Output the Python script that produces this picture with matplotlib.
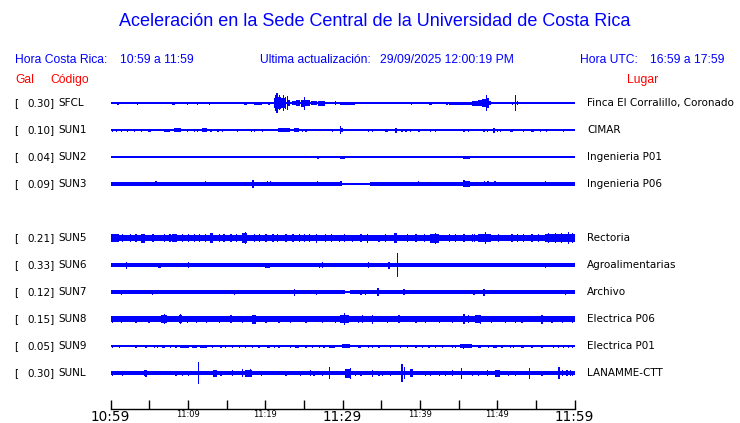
import matplotlib
matplotlib.use("Agg")
import matplotlib.pyplot as plt

W, H = 740, 423

# ---------------- data ----------------
codes = ["SFCL", "SUN1", "SUN2", "SUN3", "SUN5", "SUN6", "SUN7", "SUN8", "SUN9", "SUNL"]
gal = ["0.30", "0.10", "0.04", "0.09", "0.21", "0.33", "0.12", "0.15", "0.05", "0.30"]
places = ["Finca El Corralillo, Coronado", "CIMAR", "Ingenieria P01", "Ingenieria P06",
          "Rectoria", "Agroalimentarias", "Archivo", "Electrica P06", "Electrica P01",
          "LANAMME-CTT"]
slots = [0, 1, 2, 3, 5, 6, 7, 8, 9, 10]

tick_minutes = [0, 5, 10, 15, 20, 25, 30, 35, 40, 45, 50, 55, 60]
tick_labels = ["10:59", "", "11:09", "", "11:19", "", "11:29", "", "11:39", "", "11:49", "", "11:59"]
big_labels = ["10:59", "11:29", "11:59"]

# background band of each trace: (start min, end min, half amplitude)
base_sfcl = [(0, 60, 0.6)]
base_sun1 = [(0, 60, 0.7)]
base_sun2 = [(0, 60, 0.6)]
base_sun3 = [(0, 29.9, 1.9), (29.9, 33.5, 0.6), (33.5, 60, 1.9)]
base_sun5 = [(0, 1.1, 3.7), (1.1, 56.1, 3.2), (56.1, 60, 3.8)]
base_sun6 = [(0, 60, 1.7)]
base_sun7 = [(0, 30.3, 1.8), (30.3, 31.0, 0.6), (31.0, 60, 1.8)]
base_sun8 = [(0, 60, 2.8)]
base_sun9 = [(0, 60, 0.7)]
base_sunl = [(0, 60, 2.2)]

# bursts / spikes: (start min, duration min, half amplitude)
ev_sfcl = [(0.9, .15, 1.5), (3.4, .15, 1.5), (6.0, .15, 1), (6.7, .15, 1), (7.3, .15, 1),
           (8.0, .4, 1.5), (9.9, .15, 1.5), (10.5, .15, 1), (11.2, .15, 1.5), (12.7, .15, 1.5),
           (16.3, .15, 1), (17.2, .4, 1.5), (18.5, 1.1, 1.5), (20.0, .15, 1), (20.4, .15, 1.5),
           (21.1, .35, 5), (21.25, .15, 8), (21.45, .15, 10), (21.6, .5, 6), (21.8, .15, 7.5),
           (22.1, .6, 5), (22.3, .15, 8), (22.5, .15, 6), (22.75, .15, 7), (22.9, .3, 3),
           (23.4, .6, 2), (24.0, .5, 3), (24.6, .5, 3.5), (25.0, .15, 6.5), (25.2, .6, 3),
           (25.9, .8, 2), (26.8, .9, 2.5), (27.8, 1.0, 1), (29.0, .15, 2), (29.7, 1.9, 1.5),
           (32.0, .15, 1), (32.7, .15, 1), (37.4, .15, 1), (37.8, .15, 1), (38.8, .15, 1.5),
           (41.2, .4, 1.5), (43.4, .2, 1.5), (43.7, 3.0, 1.5), (46.7, .8, 2.5), (47.5, .5, 3),
           (48.0, .5, 4), (48.5, .15, 8), (48.65, .3, 5), (48.95, .25, 2), (50.5, .15, 1),
           (51.9, .15, 1.5), (52.3, .15, 8), (52.5, .2, 2), (53.6, .15, 1), (54.8, .15, 1)]
ev_sun1 = [(0.2, .15, 1.5), (0.65, .15, 1.5), (1.3, .15, 1.5), (2.15, .15, 1.5), (3.0, .15, 1.5),
           (3.9, .15, 1.5), (4.9, .3, 1.5), (6.9, .85, 1.5), (8.2, .9, 2), (9.9, .15, 1.5),
           (10.75, .15, 1.5), (11.2, .15, 1.5), (11.8, .65, 2), (12.9, .15, 1.5), (13.8, .15, 1.5),
           (14.4, .15, 1.5), (16.3, .15, 1.5), (18.1, .15, 1.5), (18.5, .15, 1.5), (19.6, .15, 1.5),
           (21.7, 1.5, 2), (23.7, .65, 2), (24.7, .15, 1.5), (25.2, .15, 1.5), (28.6, .15, 1.5),
           (29.6, .15, 4), (29.7, .3, 2), (33.3, .15, 1.5), (33.8, .15, 1.5), (35.5, .4, 1.5),
           (36.8, .2, 2.5), (37.6, .15, 1.5), (38.1, .15, 1.5), (38.7, .2, 1.5), (39.8, .15, 1.5),
           (41.3, .15, 1.5), (41.9, .15, 1.5), (45.6, .15, 1.5), (46.2, .15, 1.5), (48.2, .15, 1.5),
           (48.6, .15, 1.5), (49.5, .15, 2.5), (49.9, .15, 1.5), (50.3, .15, 1.5), (51.6, .4, 1.5),
           (53.3, .15, 1.5), (54.4, .4, 1.5), (55.5, .15, 1.5), (56.3, .15, 1.5), (58.5, .15, 1.5)]
ev_sun2 = [(5.8, .15, 1.2), (12.3, .15, 1.2), (18.5, .15, 1.2), (19.9, .15, 1.0), (26.7, .25, 1.5),
           (27.4, .15, 1.2), (29.7, .65, 1.5), (30.6, .15, 1.2), (32.3, .15, 1.2), (33.2, .15, 1.2),
           (38.3, .15, 1.0), (44.3, .15, 1.2), (45.6, .85, 1.5), (48.3, .15, 1.2), (48.8, .15, 1.2),
           (56.3, .15, 1.2)]
ev_sun3 = [(5.8, .15, 2.5), (12.2, .15, 2.5), (13.5, .15, 2), (18.3, .2, 4), (20.2, .15, 2.5),
           (20.6, .15, 2.5), (26.7, .15, 2.5), (29.7, .15, 2.5), (39.7, .15, 2.5), (45.6, .15, 3.5),
           (45.8, .65, 3), (48.3, .15, 2.5), (48.7, .15, 2.5), (49.6, .15, 2.5), (50.1, .15, 2),
           (56.1, .15, 2.5), (56.9, .15, 2)]
ev_sun5 = [(1.5, .15, 4), (2.5, .15, 3.8), (3.2, .15, 4.2), (3.9, .6, 4.5), (5.4, .15, 4),
           (6.9, .15, 4), (7.6, .15, 3.8), (8.0, .6, 4), (9.2, .15, 4), (10.0, .15, 4.2),
           (10.75, .15, 4), (11.4, .15, 4), (12.2, .15, 3.8), (12.9, .4, 5), (14.0, .15, 4),
           (14.6, .15, 4), (15.5, .15, 3.8), (16.2, .15, 4.2), (17.0, .6, 5), (17.4, .15, 6),
           (18.5, .15, 4), (19.2, .15, 3.8), (20.0, .15, 4), (20.9, .15, 4), (21.5, .15, 4.2),
           (22.6, .15, 4), (23.5, .15, 3.8), (24.3, .15, 4), (25.0, .15, 4.2), (25.6, .15, 4),
           (26.5, .15, 4.5), (27.7, .15, 4), (28.5, .15, 3.8), (29.5, .15, 3.5), (30.2, .15, 4),
           (31.2, .15, 3.5), (32.3, .15, 4), (33.1, .15, 4.5), (34.6, .15, 3.5), (35.5, .15, 4),
           (36.6, .4, 5), (38.3, .15, 4), (39.4, .15, 4), (40.5, .15, 4), (41.3, 1.1, 4.5),
           (41.9, .15, 5.5), (43.7, .15, 4), (44.5, .15, 4), (45.6, .15, 4), (46.7, .15, 4),
           (47.0, .15, 4), (47.5, 1.7, 4), (48.4, .15, 6), (50.1, .15, 4), (51.8, .15, 4),
           (52.5, .15, 4), (53.3, .15, 3.8), (54.4, .15, 4), (55.2, .15, 4), (56.5, .15, 5),
           (57.4, .15, 4.8), (58.2, .15, 5), (59.1, .15, 6), (59.6, .15, 5)]
ev_sun6 = [(2.0, .15, 3.5), (3.0, .15, 2), (6.2, .3, 2.5), (7.1, .15, 2), (10.0, .2, 3),
           (10.5, .15, 2), (12.0, .15, 2), (12.5, .6, 2), (17.8, .4, 2), (18.7, .9, 2),
           (20.0, .6, 2.5), (21.1, .15, 2), (21.7, .15, 2), (22.6, .15, 2), (25.6, .15, 2),
           (26.2, .15, 2), (26.9, .15, 2.5), (27.3, .15, 3), (28.6, .15, 2), (33.3, .15, 3),
           (34.2, .15, 2), (35.9, .15, 3.5), (37.0, .15, 11.7), (37.6, .15, 2), (45.2, .15, 2),
           (47.1, .15, 2), (49.9, .15, 2), (53.6, .15, 2), (55.5, .15, 2), (56.1, .15, 2.5),
           (57.0, .15, 2)]
ev_sun7 = [(1.3, .15, 2.5), (4.5, .15, 2), (5.3, .15, 2.5), (7.1, .15, 2), (8.2, .15, 2),
           (10.5, .15, 2), (14.4, .15, 2), (15.9, .15, 2.5), (16.6, .15, 2), (20.2, .15, 2),
           (23.7, .15, 3.5), (26.5, .15, 2.5), (31.2, .15, 2), (32.3, .15, 2.5), (32.9, .15, 2.5),
           (33.3, .15, 2), (34.5, .15, 4), (36.8, .15, 2), (37.8, .3, 3), (38.9, .15, 2),
           (39.8, .15, 2), (41.7, .15, 2), (43.9, .15, 2), (45.8, .15, 2), (46.9, .15, 2.5),
           (48.2, .15, 3.5), (49.9, .15, 2), (51.4, .15, 2), (54.6, .15, 2), (58.7, .15, 2.5),
           (59.4, .15, 2)]
ev_sun8 = [(0.2, .15, 3.5), (1.3, .15, 3.5), (3.2, .15, 3.5), (4.9, .15, 3.5), (6.5, .85, 4),
           (6.9, .15, 5), (8.8, .45, 4), (9.0, .15, 5), (9.9, .15, 3.5), (11.0, .15, 3.5),
           (12.3, .15, 3.5), (14.0, .15, 3.5), (15.5, .15, 4), (17.0, .15, 3.5), (18.3, .45, 4.5),
           (20.0, .15, 3.5), (21.7, .15, 3.5), (23.2, .15, 3.5), (25.2, .15, 3.5), (27.3, .15, 3.5),
           (29.0, .15, 3.5), (29.7, 1.1, 4), (30.2, .15, 5.7), (32.0, .15, 3.5), (32.5, .15, 4),
           (33.8, .15, 4.5), (35.7, .15, 3.5), (37.2, .15, 4), (39.4, .15, 3.5), (40.6, .15, 3.5),
           (42.4, .15, 3.5), (44.1, .15, 3.5), (45.6, .15, 5.3), (46.2, .15, 4), (47.1, .85, 4),
           (47.7, .15, 4.5), (49.2, .15, 3.5), (51.0, .15, 3.5), (52.3, .15, 3.5), (53.1, .15, 3.5),
           (55.7, .15, 4.5), (57.0, .15, 3.5), (58.3, .15, 3.5), (59.6, .15, 3.5)]
ev_sun9 = [(0.2, .15, 1.5), (1.1, .15, 1.5), (3.2, .15, 1.5), (4.5, .15, 1.5), (5.6, .15, 1.5),
           (6.0, .15, 1.5), (6.7, .4, 1.5), (7.7, .15, 1.5), (8.4, .15, 1.5), (9.0, 1.1, 1.5),
           (10.5, .65, 1.5), (11.6, .85, 1.5), (13.1, .15, 1.5), (14.2, .15, 1.5), (14.8, .15, 1.5),
           (15.7, .15, 1.5), (16.6, .15, 1.5), (17.4, .15, 1.5), (18.3, .15, 1.5), (19.1, .15, 1.5),
           (20.2, .4, 1.5), (21.1, .15, 1.5), (21.7, .15, 1.5), (23.2, .15, 1.5), (23.9, .4, 1.5),
           (25.2, .15, 1.5), (26.0, .15, 1.5), (26.9, .15, 1.5), (27.5, .15, 1.5), (28.2, .85, 1.5),
           (29.9, 1.1, 1.8), (32.0, .4, 1.5), (33.3, .15, 1.5), (33.8, .15, 1.5), (34.6, .15, 1.5),
           (36.1, .15, 1.5), (37.4, .15, 1.5), (38.3, .2, 1.5), (39.4, .15, 1.5), (40.2, .15, 1.5),
           (41.1, .15, 1.5), (41.9, .15, 1.5), (42.8, .15, 1.5), (44.1, .15, 1.5), (44.5, .15, 1.5),
           (45.2, 1.5, 2), (45.5, .15, 2.5), (47.5, .4, 1.5), (48.8, .15, 1.5), (49.5, .4, 1.5),
           (50.5, .15, 1.5), (51.6, .15, 1.5), (52.0, .15, 1.5), (53.1, .4, 1.5), (54.4, .15, 1.5),
           (55.7, .15, 1.5), (57.2, .15, 1.5), (57.8, .15, 1.5), (58.5, .15, 1.5), (59.1, .15, 1.5),
           (59.6, .15, 1.5)]
ev_sunl = [(0.2, .15, 2.5), (1.5, .15, 2.5), (4.3, .4, 3), (4.5, .15, 3.5), (8.4, .15, 2.5),
           (9.2, .15, 2.5), (10.0, .15, 2.5), (11.3, .15, 10.8), (13.3, .45, 3.5), (14.2, .15, 2.5),
           (15.7, .15, 3), (17.0, .15, 4), (17.4, .9, 3.5), (18.0, .15, 4), (19.4, .15, 2.5),
           (22.6, .15, 2.5), (24.5, .15, 2.5), (25.8, .15, 3), (26.2, .15, 2.5), (27.3, .15, 2.5),
           (28.2, .15, 6.3), (30.3, .65, 4.5), (30.9, .15, 5.5), (31.6, .15, 2.5), (32.3, .15, 2.5),
           (33.8, .15, 3.5), (34.6, .15, 2.5), (35.1, .15, 2.5), (36.1, .15, 2.5), (37.6, .15, 8.8),
           (37.9, .15, 6), (38.7, .4, 4), (40.6, .15, 2.5), (41.3, .15, 2.5), (42.4, .15, 2.5),
           (43.2, .15, 2.5), (44.1, .15, 3), (45.3, .15, 5.5), (46.7, .15, 2.5), (47.5, .15, 2.5),
           (48.6, .15, 3), (49.7, .65, 3.5), (51.4, .15, 2.5), (52.3, .15, 2.5), (54.1, .15, 5.5),
           (55.7, .15, 2.5), (57.9, .15, 6), (58.3, .15, 3), (58.9, .15, 3), (59.4, .15, 3),
           (59.6, .15, 2.5)]

bases = [base_sfcl, base_sun1, base_sun2, base_sun3, base_sun5, base_sun6, base_sun7,
         base_sun8, base_sun9, base_sunl]
events = [ev_sfcl, ev_sun1, ev_sun2, ev_sun3, ev_sun5, ev_sun6, ev_sun7, ev_sun8, ev_sun9,
          ev_sunl]

# ---------------- layout ----------------
BLUE = "#0000FF"
RED = "#FF0000"
HEAD = "Liberation Sans"
LAB = "DejaVu Sans"

fig = plt.figure(figsize=(W / 100, H / 100), dpi=100)
fig.patch.set_facecolor("white")


def fx(px):
    return px / W


def fy(py):
    return 1 - py / H


x0, x1 = 110.5, 574.7
ytop, ybot = 88, 409
ax = fig.add_axes([fx(x0), fy(ybot), fx(x1) - fx(x0), fy(ytop) - fy(ybot)])
ax.set_xlim(0, 60)
ax.set_ylim(ybot, ytop)
for s in ("top", "left", "right"):
    ax.spines[s].set_visible(False)
ax.spines["bottom"].set_linewidth(1.0)
ax.set_yticks([])
ax.set_xticks(tick_minutes)
ax.set_xticklabels(tick_labels)
ax.tick_params(axis="x", direction="in", length=6.5, width=1.0, pad=0.5, colors="black")
for lbl in ax.get_xticklabels():
    if lbl.get_text() in big_labels:
        lbl.set_fontsize(9.8)
    else:
        lbl.set_fontsize(6)
    lbl.set_family(LAB)

first_y = 103
gap = 27
for i, code in enumerate(codes):
    yc = first_y + gap * slots[i]
    for (s, e, a) in bases[i]:
        ax.bar(s, 2 * a, width=e - s, bottom=yc - a, align="edge", color=BLUE, linewidth=0,
               antialiased=False)
    for (t, d, a) in events[i]:
        ax.bar(t, 2 * a, width=max(d, 0.17), bottom=yc - a, align="edge", color=BLUE,
               linewidth=0, antialiased=False)
    fig.text(fx(14), fy(yc), "[", fontsize=7.5, family=LAB, va="center", ha="left")
    fig.text(fx(55), fy(yc), gal[i] + "]", fontsize=7.5, family=LAB, va="center", ha="right")
    fig.text(fx(58), fy(yc), code, fontsize=7.5, family=LAB, va="center", ha="left")
    fig.text(fx(587), fy(yc), places[i], fontsize=7.5, family=LAB, va="center", ha="left")

fig.text(fx(375), fy(22), "Aceleración en la Sede Central de la Universidad de Costa Rica",
         fontsize=13, family=HEAD, color=BLUE, ha="center", va="center")
fs = 8.7
fig.text(fx(15), fy(60), "Hora Costa Rica:", fontsize=fs, family=HEAD, color=BLUE, va="center")
fig.text(fx(120), fy(60), "10:59 a 11:59", fontsize=fs, family=HEAD, color=BLUE, va="center")
fig.text(fx(260), fy(60), "Ultima actualización:", fontsize=fs, family=HEAD, color=BLUE, va="center")
fig.text(fx(380), fy(60), "29/09/2025 12:00:19 PM", fontsize=fs, family=HEAD, color=BLUE, va="center")
fig.text(fx(580), fy(60), "Hora UTC:", fontsize=fs, family=HEAD, color=BLUE, va="center")
fig.text(fx(650), fy(60), "16:59 a 17:59", fontsize=fs, family=HEAD, color=BLUE, va="center")
fig.text(fx(15), fy(80), "Gal", fontsize=fs, family=HEAD, color=RED, va="center")
fig.text(fx(50), fy(80), "Código", fontsize=fs, family=HEAD, color=RED, va="center")
fig.text(fx(627), fy(80), "Lugar", fontsize=fs, family=HEAD, color=RED, va="center")

fig.savefig("out.png", dpi=100)
